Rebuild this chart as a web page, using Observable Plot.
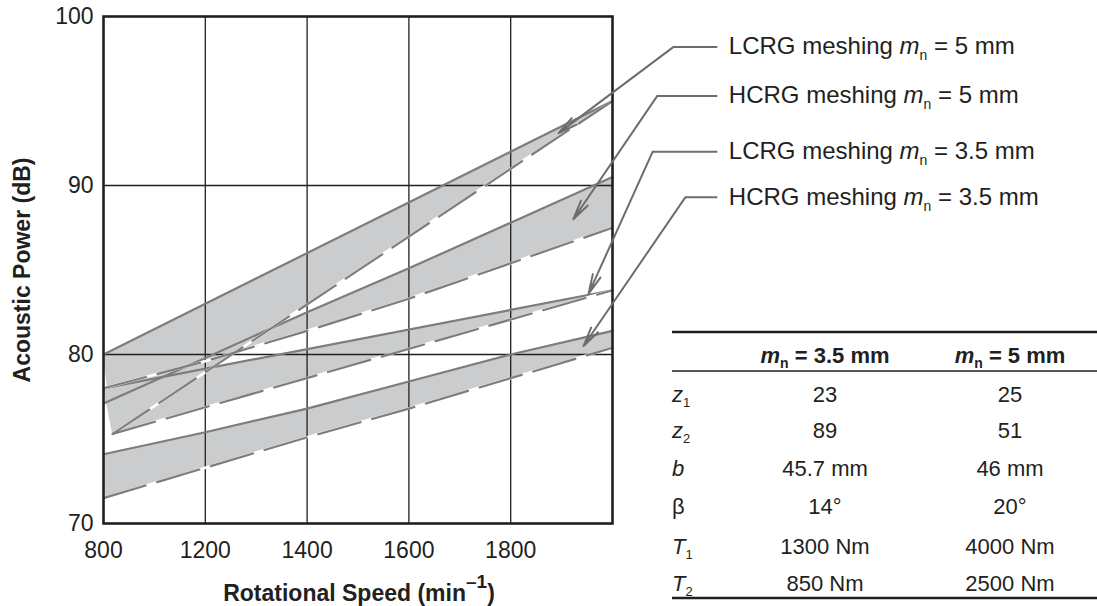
<!DOCTYPE html>
<html><head><meta charset="utf-8">
<script src="https://cdn.jsdelivr.net/npm/d3@7"></script>
<script src="https://cdn.jsdelivr.net/npm/@observablehq/plot@0.6"></script>
<style>
body{margin:0;background:#fff;}
#wrap{position:relative;width:1097px;height:606px;}
</style></head><body><div id="wrap"></div>
<script>
// ---- axes ----
const xTicks = [1000, 1200, 1400, 1600, 1800];
const xTickLabels = ["800", "1200", "1400", "1600", "1800"];
const yTicks = [70, 80, 90, 100];
const gridX = [1200, 1400, 1600, 1800];
const gridY = [80, 90];

// ---- bands: solid-line point (xs, s) paired with dashed-line point (xd, d) ----
const lcrg5 = [
  {xs: 1000, s: 80.0, xd: 1018, d: 75.3},
  {xs: 2000, s: 95.0, xd: 2000, d: 95.0}
];
const hcrg5 = [
  {xs: 1000, s: 77.1, xd: 1000, d: 78.0},
  {xs: 1200, s: 79.8, xd: 1200, d: 79.6},
  {xs: 1400, s: 82.5, xd: 1400, d: 81.4},
  {xs: 1600, s: 85.1, xd: 1600, d: 83.3},
  {xs: 1800, s: 87.8, xd: 1800, d: 85.4},
  {xs: 2000, s: 90.5, xd: 2000, d: 87.5}
];
const lcrg35 = [
  {xs: 1000, s: 78.0, xd: 1018, d: 75.3},
  {xs: 2000, s: 83.8, xd: 2000, d: 83.8}
];
const hcrg35 = [
  {xs: 1000, s: 74.1, xd: 1000, d: 71.5},
  {xs: 1200, s: 75.4, xd: 1200, d: 73.3},
  {xs: 1400, s: 76.8, xd: 1400, d: 75.1},
  {xs: 1600, s: 78.4, xd: 1600, d: 76.8},
  {xs: 1800, s: 80.0, xd: 1800, d: 78.6},
  {xs: 2000, s: 81.4, xd: 2000, d: 80.4}
];
const bands = [lcrg5, hcrg5, lcrg35, hcrg35];

// ---- leader annotations (data units) ----
const legendNames = ["LCRG meshing ", "HCRG meshing ", "LCRG meshing ", "HCRG meshing "];
const legendModules = ["5 mm", "5 mm", "3.5 mm", "3.5 mm"];
const leaders = [
  {cx: 2120, cy: 98.2, hx: 2206, tx: 1894, ty: 93.1},
  {cx: 2088, cy: 95.3, hx: 2206, tx: 1923, ty: 88.0},
  {cx: 2079, cy: 92.0, hx: 2206, tx: 1953, ty: 83.6},
  {cx: 2143, cy: 89.3, hx: 2206, tx: 1943, ty: 80.5}
];

// ---- table ----
const tableHeads = ["3.5 mm", "5 mm"];
const rowSymbols = [["z","1",true],["z","2",true],["b","",true],["β","",false],["T","1",true],["T","2",true]];
const col35 = ["23", "89", "45.7 mm", "14°", "1300 Nm", "850 Nm"];
const col5 = ["25", "51", "46 mm", "20°", "4000 Nm", "2500 Nm"];

const FONT = "'Liberation Sans', Arial, Helvetica, sans-serif";
const INK = "#231f20";
const LINE = "#7d7d7d";
const FILL = "#cbccce";

const plot = Plot.plot({
  width: 1097, height: 606,
  marginLeft: 103, marginRight: 485, marginTop: 16, marginBottom: 83,
  x: {domain: [1000, 2000]},
  y: {domain: [70, 100]},
  style: {fontFamily: FONT, fontSize: "23px", color: INK, background: "white", overflow: "visible"},
  marks: [
    ...bands.map(b => Plot.area(b, {x1: "xs", y1: "s", x2: "xd", y2: "d", fill: FILL})),
    Plot.ruleX(gridX, {stroke: INK, strokeWidth: 1.3}),
    Plot.ruleY(gridY, {stroke: INK, strokeWidth: 1.3}),
    ...bands.map(b => Plot.line(b, {x: "xs", y: "s", stroke: LINE, strokeWidth: 2.2})),
    ...bands.map(b => Plot.line(b, {x: "xd", y: "d", stroke: "white", strokeWidth: 2.6})),
    ...bands.map(b => Plot.line(b, {x: "xd", y: "d", stroke: LINE, strokeWidth: 2.2, strokeDasharray: "44,12"})),
    Plot.frame({stroke: INK, strokeWidth: 2.6}),
    Plot.axisY(yTicks, {tickSize: 0, tickPadding: 10, label: null}),
    Plot.axisX(xTicks, {tickSize: 0, tickPadding: 18, label: null,
      tickFormat: d => xTickLabels[xTicks.indexOf(d)]}),
    Plot.link(leaders, {x1: "cx", y1: "cy", x2: "hx", y2: "cy", stroke: "#6d6d6d", strokeWidth: 2}),
    Plot.arrow(leaders, {x1: "cx", y1: "cy", x2: "tx", y2: "ty", stroke: "#6d6d6d", strokeWidth: 2,
      headLength: 15, headAngle: 24})
  ]
});
document.getElementById("wrap").appendChild(plot);

const sx = plot.scale("x").apply, sy = plot.scale("y").apply;
const svg = d3.select(plot);
const g = svg.append("g").attr("font-family", FONT).attr("fill", INK).attr("text-anchor", "start");

// legend labels
leaders.forEach((l, i) => {
  const t = g.append("text").attr("x", sx(l.hx) + 12).attr("y", sy(l.cy) + 8).attr("font-size", 24)
    .attr("text-anchor", "start");
  t.append("tspan").text(legendNames[i]);
  t.append("tspan").attr("font-style", "italic").text("m");
  t.append("tspan").attr("font-size", 14).attr("dy", 6).text("n");
  t.append("tspan").attr("dy", -6).text(" = " + legendModules[i]);
});

// axis titles
g.append("text").attr("transform", "translate(30,270) rotate(-90)").attr("text-anchor", "middle")
  .attr("font-size", 23).attr("font-weight", "bold").text("Acoustic Power (dB)");
const xl = g.append("text").attr("x", 359).attr("y", 601).attr("text-anchor", "middle")
  .attr("font-size", 23).attr("font-weight", "bold");
xl.append("tspan").text("Rotational Speed (min");
xl.append("tspan").attr("dy", -13).attr("font-size", 19).text("–1");
xl.append("tspan").attr("dy", 13).text(")");

// table
const tL = 672, tR = 1097, c1 = 825, c2 = 1010;
g.append("line").attr("x1", tL).attr("x2", tR).attr("y1", 332).attr("y2", 332).attr("stroke", INK).attr("stroke-width", 2.6);
g.append("line").attr("x1", tL).attr("x2", tR).attr("y1", 371).attr("y2", 371).attr("stroke", INK).attr("stroke-width", 1.3);
g.append("line").attr("x1", tL).attr("x2", tR).attr("y1", 598).attr("y2", 598).attr("stroke", INK).attr("stroke-width", 2.6);
[c1, c2].forEach((cx, i) => {
  const t = g.append("text").attr("x", cx).attr("y", 363).attr("text-anchor", "middle")
    .attr("font-size", 22).attr("font-weight", "bold");
  t.append("tspan").attr("font-style", "italic").text("m");
  t.append("tspan").attr("font-size", 14).attr("dy", 5).text("n");
  t.append("tspan").attr("dy", -5).text(" = " + tableHeads[i]);
});
const rowBase = [402, 438, 476, 514, 554, 591];
rowSymbols.forEach((r, i) => {
  const t = g.append("text").attr("x", tL).attr("y", rowBase[i]).attr("font-size", 22).attr("text-anchor", "start");
  t.append("tspan").attr("font-style", r[2] ? "italic" : "normal").text(r[0]);
  if (r[1]) t.append("tspan").attr("font-size", 13).attr("dy", 5).text(r[1]);
  g.append("text").attr("x", c1).attr("y", rowBase[i]).attr("text-anchor", "middle").attr("font-size", 22).text(col35[i]);
  g.append("text").attr("x", c2).attr("y", rowBase[i]).attr("text-anchor", "middle").attr("font-size", 22).text(col5[i]);
});
</script></body></html>
